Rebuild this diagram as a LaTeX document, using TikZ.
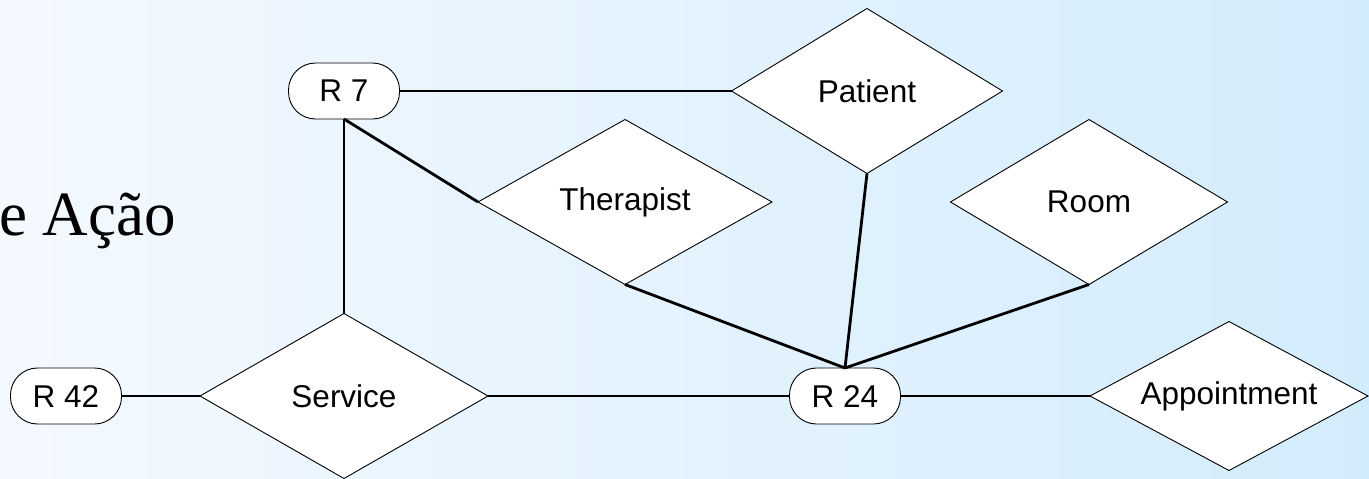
\documentclass[tikz,border=0pt]{standalone}
\usepackage{fontspec}
\setmainfont{Liberation Sans}
\newfontfamily\titlefont{Liberation Serif}
\usetikzlibrary{shapes.geometric}

\definecolor{bgleft}{HTML}{F4F9FF}
\definecolor{bgright}{HTML}{D3ECFC}

\tikzset{
  rel/.style={diamond, aspect=1.8, draw=black, line width=0.9pt, fill=white,
    inner sep=0pt, outer sep=0pt, font=\fontsize{31.5}{36}\selectfont},
  entbox/.style={rectangle, rounded corners=27pt, draw=black, line width=0.9pt,
    fill=white, minimum width=111pt, minimum height=56pt, inner sep=0pt,
    outer sep=0pt, font=\fontsize{31.5}{36}\selectfont},
  link/.style={line width=2.8pt, draw=black}
}

\begin{document}
\begin{tikzpicture}[x=1pt, y=-1pt]
  % backdrop
  \useasboundingbox (0,0) rectangle (1369,479);
  \shade[left color=bgleft, right color=bgright] (0,0) rectangle (1369,479);

  % heading fragment
  \node[anchor=base west, inner sep=0pt, font=\titlefont\fontsize{63}{70}\selectfont]
    (heading) at (-1,235) {e Ação};

  % relationships
  \node[entbox] (r7)  at (344,91)  {R 7};
  \node[entbox] (r42) at (66,396)  {R 42};
  \node[entbox] (r24) at (845,396) {R 24};

  % entities
  \node[rel, minimum width=271pt, minimum height=165pt] (patient)   at (867,91)   {Patient};
  \node[rel, minimum width=294pt, minimum height=165pt] (therapist) at (625,202)  {Therapist};
  \node[rel, minimum width=277pt, minimum height=165pt] (room)      at (1089,202) {Room};
  \node[rel, minimum width=288pt, minimum height=165pt] (service)   at (344,396)  {Service};
  \node[rel, minimum width=278pt, minimum height=149pt] (appt)      at (1229,396) {Appointment};

  % connectors
  \draw[link] (r7.east) -- (patient.west);
  \draw[link] (r7.south) -- (service.north);
  \draw[link] (r7.south) -- (therapist.west);
  \draw[link] (therapist.south) -- (r24.north);
  \draw[link] (patient.south) -- (r24.north);
  \draw[link] (room.south) -- (r24.north);
  \draw[link] (r42.east) -- (service.west);
  \draw[link] (service.east) -- (r24.west);
  \draw[link] (r24.east) -- (appt.west);
\end{tikzpicture}
\end{document}
